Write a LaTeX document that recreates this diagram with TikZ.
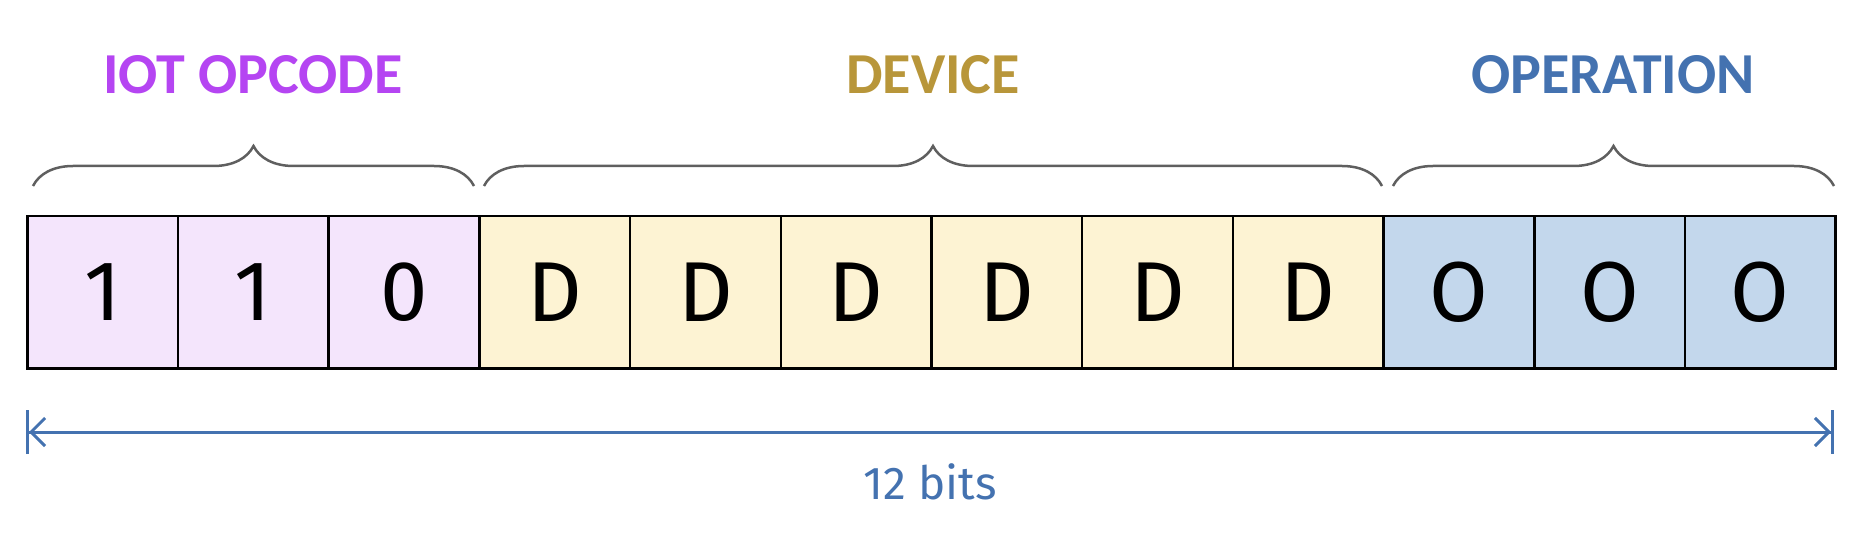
\documentclass[tikz,border=0pt]{standalone}
\usepackage{fontspec}
\setmainfont{Fira Sans}
\newfontfamily\labelfont{Carlito}
\usetikzlibrary{arrows.meta,positioning,decorations.pathreplacing}
\definecolor{iotpurple}{HTML}{B545F2}
\definecolor{devgold}{HTML}{B8963A}
\definecolor{opblue}{HTML}{4472B0}
\definecolor{bracegray}{HTML}{5F5F5F}
\definecolor{fillpurple}{HTML}{F4E5FC}
\definecolor{fillgold}{HTML}{FDF3D3}
\definecolor{fillblue}{HTML}{C3D7EC}

\begin{document}
\begin{tikzpicture}[x=1pt,y=-1pt,
  bit/.style={rectangle,draw=black,line width=2.5pt,minimum width=150.7pt,
              minimum height=152pt,inner sep=0pt,anchor=north west,
              font=\fontsize{85}{90}\selectfont},
  field/.style={font=\labelfont\bfseries\fontsize{58}{60}\selectfont},
  grp/.style={decorate,decoration={brace,amplitude=40pt},
              draw=bracegray,line width=2.5pt}
]
\useasboundingbox (0,0) rectangle (1866,548);

% ---- Bit cells ---------------------------------------------
\foreach \i/\t/\c in {1/1/fillpurple,2/1/fillpurple,3/0/fillpurple,
    4/D/fillgold,5/D/fillgold,6/D/fillgold,7/D/fillgold,8/D/fillgold,9/D/fillgold,
    10/O/fillblue,11/O/fillblue,12/O/fillblue}
  \node[bit,fill=\c] (cell\i) at ({26+(\i-1)*150.7},215) {\t};

% ---- Braces and field labels -------------------------------
\coordinate (iotL) at (33,186);   \coordinate (iotR) at (474,186);
\coordinate (devL) at (484,186);  \coordinate (devR) at (1382,186);
\coordinate (opL)  at (1393,186); \coordinate (opR)  at (1834,186);
\draw[grp] (iotL) -- (iotR);
\draw[grp] (devL) -- (devR);
\draw[grp] (opL) -- (opR);
\node[field,text=iotpurple] (iot) at (253,75) {IOT OPCODE};
\node[field,text=devgold]   (dev) at (933,75) {DEVICE};
\node[field,text=opblue]    (op)  at (1613,75) {OPERATION};

% ---- Width arrow -------------------------------------------
\coordinate (wL) at (26,432);
\coordinate (wR) at (1834,432);
\draw[opblue,line width=3pt,
  {Bar[width=44pt]Straight Barb[length=14pt,width=28pt]}-{Straight Barb[length=14pt,width=28pt]Bar[width=44pt]}]
  (wL) -- (wR);
\node[text=opblue,font=\fontsize{46}{50}\selectfont] (width) at (930,482) {12 bits};
\end{tikzpicture}
\end{document}
